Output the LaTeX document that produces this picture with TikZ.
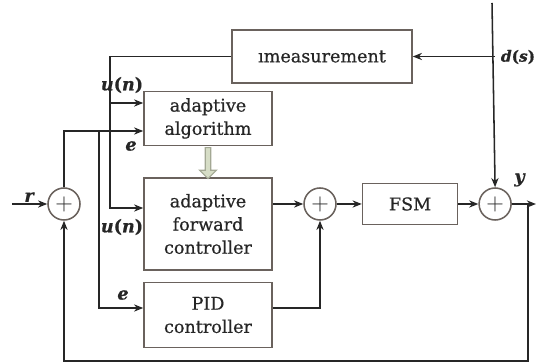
\documentclass[tikz,border=0pt]{standalone}
\usepackage{fontspec}
\setmainfont{DejaVu Serif}[FakeBold=0.6]
\usepackage{xcolor}
\definecolor{lineDark}{HTML}{262626}
\definecolor{boxEdge}{HTML}{6A625D}
\definecolor{hintGreen}{HTML}{D6DDC6}
\definecolor{hintEdge}{HTML}{A3A894}
\usetikzlibrary{arrows.meta, positioning, shapes.arrows, calc}

\newcommand{\sig}[1]{\textbf{\textit{#1}}}

\begin{document}
\begin{tikzpicture}[
  box/.style={draw=boxEdge, line width=1.1pt, minimum width=3.2cm, align=center, inner sep=2pt, font=\fontsize{12.5}{16.5}\selectfont, text=lineDark},
  sum/.style={circle, draw=boxEdge, line width=1.1pt, minimum size=0.8cm, inner sep=0pt, font=\LARGE, text=lineDark},
  arr/.style={-{Stealth[length=2.3mm, width=1.8mm]}, line width=1.1pt, draw=lineDark},
  lbl/.style={font=\fontsize{12.5}{14}\selectfont, text=lineDark, inner sep=1pt}
]
  \useasboundingbox (-1.6,-3.975) rectangle (11.8,5.1);

  \node[sum] (s1) at (0,0) {$+$};
  \node[box, minimum height=2.3cm] (afc) at (3.6,-0.5) {adaptive\\forward\\controller};
  \node[box, minimum height=1.35cm, above=0.775cm of afc] (alg) {adaptive\\algorithm};
  \node[box, minimum height=1.625cm, below=0.275cm of afc] (pid) {PID\\controller};
  \node[sum] (s2) at (6.4,0) {$+$};
  \node[box, minimum width=2.375cm, minimum height=1.025cm, right=0.625cm of s2] (fsm) {FSM};
  \node[sum, right=0.5cm of fsm] (s3) {$+$};
  \node[box, minimum width=4.5cm, minimum height=1.325cm] (meas) at (6.45,3.6875) {\i measurement};

  \node[single arrow, draw=hintEdge, fill=hintGreen, line width=0.8pt, shape border rotate=270, minimum height=0.775cm, minimum width=0.42cm, inner xsep=0.045cm, inner ysep=0pt, single arrow head extend=0.12cm] (hint) at ($(alg.south)!0.5!(afc.north)$) {};

  \coordinate (rin) at (-1.3,0);
  \coordinate (etop) at (0,1.825);
  \coordinate (ebr) at (0.875,1.825);
  \coordinate (epid) at (0.875,-2.6);
  \coordinate (ulow) at (1.15,-0.1);
  \coordinate (uup) at (1.15,2.525);
  \coordinate (dtop) at (10.7,5.025);
  \coordinate (yout) at (11.8,0);
  \coordinate (fb) at (11.6,0);
  \coordinate (fbot) at (11.6,-3.925);

  \draw[arr] (rin) -- node[lbl, above] (lr) {\sig{r}} (s1);
  \draw[arr] (s1.north) |- (alg.west |- etop);
  \draw[arr] (ebr) -- (epid) -- (pid.west |- epid);
  \draw[arr] (meas.west) -| (ulow) -- (afc.west |- ulow);
  \draw[arr] (uup) -- (alg.west |- uup);
  \draw[arr] (afc.east |- s2) -- (s2.west);
  \draw[arr] (pid.east |- epid) -| (s2.south);
  \draw[arr] (s2) -- (fsm);
  \draw[arr] (fsm) -- (s3);
  \draw[arr] (dtop) -- (s3.north);
  \draw[arr] (s3.north |- meas.east) -- (meas.east);
  \draw[arr] (s3.east) -- (yout);
  \draw[arr] (fb) -- (fbot) -| (s1.south);

  \node[lbl] (lu1) at (1.45,2.975) {\textbf{\textit{u}(\textit{n})}};
  \node[lbl] (le1) at (1.675,1.45) {\sig{e}};
  \node[lbl] (lu2) at (1.45,-0.575) {\textbf{\textit{u}(\textit{n})}};
  \node[lbl] (le2) at (1.475,-2.275) {\sig{e}};
  \node[lbl, anchor=west, font=\fontsize{11}{13}\selectfont] (ld) at (10.88,3.675) {\textbf{\textit{d}(\textit{s})}};
  \node[lbl] (ly) at (11.4,0.6) {\sig{y}};
\end{tikzpicture}
\end{document}
